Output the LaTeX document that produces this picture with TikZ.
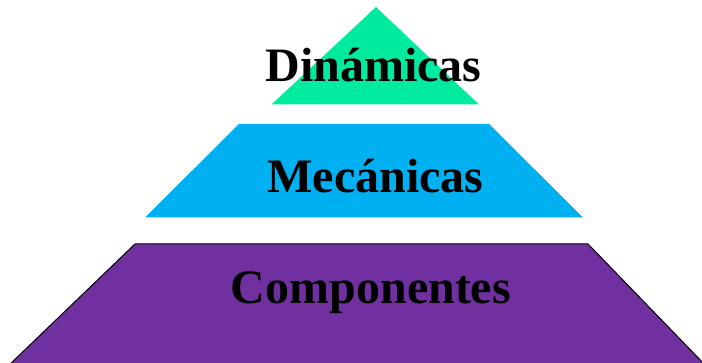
\documentclass[tikz,border=0pt]{standalone}
\usepackage{fontspec}
\setmainfont{Liberation Serif}
\definecolor{pgreen}{HTML}{00EBA0}
\definecolor{pblue}{HTML}{00B0F0}
\definecolor{ppurple}{HTML}{7030A0}
\begin{document}
\begin{tikzpicture}[x=1pt,y=-1pt,
  lbl/.style={anchor=base,font=\bfseries\fontsize{48}{50}\selectfont,text=black,inner sep=0pt}]
\useasboundingbox (0,0) rectangle (702,363);
\begin{scope}
\clip (0,0) rectangle (702,363);
\fill[pgreen] (376,7) -- (479,104.5) -- (271.5,104.5) -- cycle;
\fill[pblue] (239,124) -- (489,124) -- (583,217.5) -- (145,217.5) -- cycle;
\draw[fill=ppurple,line width=1pt] (135,244) -- (588,244) -- (708,368) -- (6,368) -- cycle;
\end{scope}
\node[lbl] (dyn) at (373.5,82) {Dinámicas};
\node[lbl] (mec) at (375.5,193) {Mecánicas};
\node[lbl] (comp) at (371,303.5) {Componentes};
\end{tikzpicture}
\end{document}
